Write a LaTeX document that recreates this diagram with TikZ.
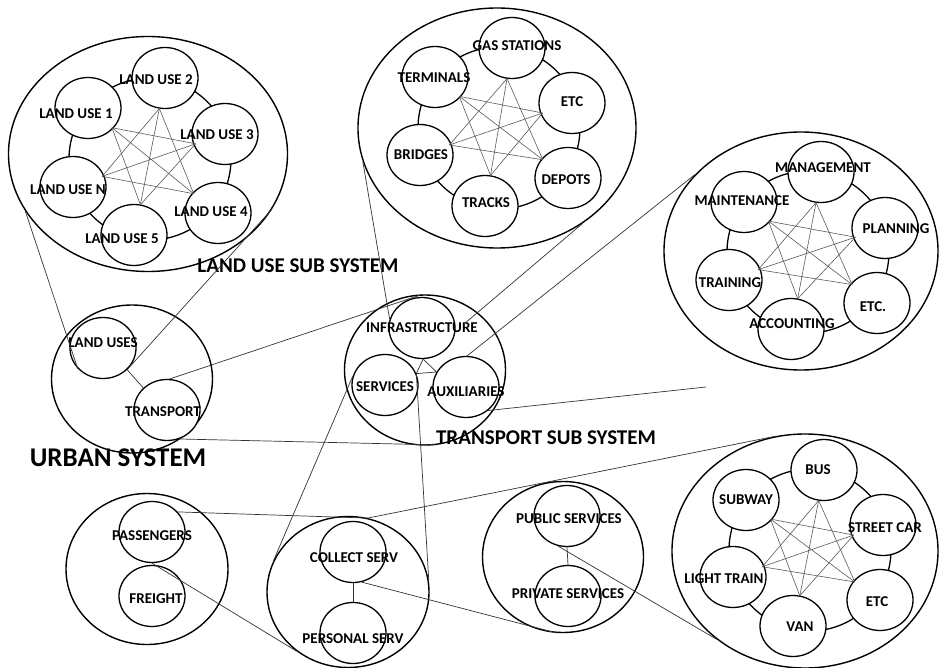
\documentclass[tikz,border=0pt]{standalone}
\usepackage{fontspec}
\setmainfont{Carlito}
\usetikzlibrary{shapes.geometric,calc}
\newcommand\crossset[7]{%
  \foreach \p/\q in {#2/#4,#2/#5,#2/#6,#3/#5,#3/#6,#3/#7,#4/#6,#4/#7,#5/#7}
    {\draw[cross] ($(\p)!31pt!(#1)$) -- ($(\q)!31pt!(#1)$);}}
\begin{document}
\begin{tikzpicture}[x=1pt,y=-1pt,
  grp/.style={draw, ellipse, line width=1.4pt, inner sep=0pt},
  sm/.style={draw, fill=white, ellipse, line width=1.3pt, inner sep=0pt, minimum width=66pt, minimum height=61pt},
  lbl/.style={font=\fontsize{15}{16}\selectfont\bfseries, inner sep=0pt},
  ttl/.style={font=\fontsize{21}{24}\selectfont\bfseries, inner sep=0pt},
  bigttl/.style={font=\fontsize{27}{30}\selectfont\bfseries, inner sep=0pt},
  ring/.style={line width=1.3pt},
  cross/.style={draw=black!65, line width=0.6pt},
  link/.style={draw=black!80, line width=0.7pt}]
\useasboundingbox (0,0) rectangle (939,668);

% ---------- group ellipses
\node[grp, minimum width=279pt, minimum height=235pt] (lusys) at (148,154) {};
\node[grp, minimum width=278pt, minimum height=240pt] (term) at (497,128) {};
\node[grp, minimum width=274pt, minimum height=238pt] (mgmt) at (801,251) {};
\node[grp, minimum width=266pt, minimum height=234pt] (veh) at (805,551) {};
\node[grp, minimum width=161pt, minimum height=148pt] (urban) at (132,379) {};
\node[grp, minimum width=161pt, minimum height=150pt] (tss) at (425,370) {};
\node[grp, minimum width=162pt, minimum height=151pt] (pass) at (147,569) {};
\node[grp, minimum width=162pt, minimum height=151pt] (coll) at (348,592) {};
\node[grp, minimum width=161pt, minimum height=151pt] (pub) at (563,557) {};

% ---------- rings
\coordinate (luc) at (150,159);
\coordinate (tc) at (499,128);
\coordinate (mc) at (808,252);
\coordinate (vc) at (810,550);
\draw[ring] (luc) circle[radius=81pt];
\draw[ring] (tc) circle[radius=81pt];
\draw[ring] (mc) circle[radius=81pt];
\draw[ring] (vc) circle[radius=81pt];

% ---------- land use
\node[sm] (lu2) at (165,78) {};
\node[sm] (lu1) at (88,108) {};
\node[sm] (lu3) at (225,134) {};
\node[sm] (lun) at (73,187) {};
\node[sm] (lu4) at (218,213) {};
\node[sm] (lu5) at (134,235) {};
% ---------- terminals
\node[sm] (gs) at (512,48) {};
\node[sm] (tm) at (435,77) {};
\node[sm] (etc) at (572,103) {};
\node[sm] (br) at (420,155) {};
\node[sm] (dp) at (568,178) {};
\node[sm] (tr) at (485,206) {};
% ---------- management
\node[sm] (mg) at (821,172) {};
\node[sm] (mt) at (744,202) {};
\node[sm] (pl) at (885,228) {};
\node[sm] (trn) at (729,280) {};
\node[sm] (et) at (877,303) {};
\node[sm] (ac) at (791,329) {};
% ---------- vehicles
\node[sm] (bus) at (824,470) {};
\node[sm] (sub) at (746,500) {};
\node[sm] (sc) at (883,525) {};
\node[sm] (lt) at (733,577) {};
\node[sm] (ve) at (880,600) {};
\node[sm] (van) at (793,626) {};
% ---------- small groups
\node[sm] (lus) at (103,348) {};
\node[sm] (trp) at (167,410) {};
\node[sm] (inf) at (422,328) {};
\node[sm] (srv) at (385,385) {};
\node[sm] (aux) at (466,387) {};
\node[sm] (psg) at (152,532) {};
\node[sm] (frt) at (152,596) {};
\node[sm] (cs) at (353,552) {};
\node[sm] (ps) at (353,633) {};
\node[sm] (pbs) at (567,516) {};
\node[sm] (pvs) at (568,596) {};

% ---------- cross lines
\crossset{luc}{lu2}{lu3}{lu4}{lu5}{lun}{lu1}
\crossset{tc}{gs}{etc}{dp}{tr}{br}{tm}
\crossset{mc}{mg}{pl}{et}{ac}{trn}{mt}
\crossset{vc}{bus}{sc}{ve}{van}{lt}{sub}

% ---------- labels
\node[lbl] (t-lu2) at (156,80) {LAND USE 2};
\node[lbl] (t-lu1) at (76,114) {LAND USE 1};
\node[lbl] (t-lu3) at (217,135) {LAND USE 3};
\node[lbl] (t-lun) at (68,190) {LAND USE N};
\node[lbl] (t-lu4) at (211,212) {LAND USE 4};
\node[lbl] (t-lu5) at (122,239) {LAND USE 5};
\node[lbl] (t-gs) at (517,46) {GAS STATIONS};
\node[lbl] (t-tm) at (434,78) {TERMINALS};
\node[lbl] (t-etc) at (572,102) {ETC};
\node[lbl] (t-br) at (421,155) {BRIDGES};
\node[lbl] (t-dp) at (566,180) {DEPOTS};
\node[lbl] (t-tr) at (486,203) {TRACKS};
\node[lbl] (t-mg) at (823,168) {MANAGEMENT};
\node[lbl] (t-mt) at (742,201) {MAINTENANCE};
\node[lbl] (t-pl) at (896,229) {PLANNING};
\node[lbl] (t-trn) at (730,283) {TRAINING};
\node[lbl] (t-et) at (873,307) {ETC.};
\node[lbl] (t-ac) at (792,324) {ACCOUNTING};
\node[lbl] (t-bus) at (818,470) {BUS};
\node[lbl] (t-sub) at (746,500) {SUBWAY};
\node[lbl] (t-sc) at (885,528) {STREET CAR};
\node[lbl] (t-lt) at (724,579) {LIGHT TRAIN};
\node[lbl] (t-ve) at (877,602) {ETC};
\node[lbl] (t-van) at (800,627) {VAN};
\node[lbl] (t-lus) at (103,343) {LAND USES};
\node[lbl] (t-trp) at (163,412) {TRANSPORT};
\node[lbl] (t-inf) at (422,328) {INFRASTRUCTURE};
\node[lbl] (t-srv) at (385,387) {SERVICES};
\node[lbl] (t-aux) at (466,392) {AUXILIARIES};
\node[lbl] (t-psg) at (152,536) {PASSENGERS};
\node[lbl] (t-frt) at (156,599) {FREIGHT};
\node[lbl] (t-cs) at (354,558) {COLLECT SERV};
\node[lbl] (t-ps) at (353,639) {PERSONAL SERV};
\node[lbl] (t-pbs) at (569,519) {PUBLIC SERVICES};
\node[lbl] (t-pvs) at (568,594) {PRIVATE SERVICES};

\node[ttl] (t-lusys) at (298,266) {LAND USE SUB SYSTEM};
\node[ttl] (t-tss) at (546,438) {TRANSPORT SUB SYSTEM};
\node[bigttl] (t-urban) at (118,458) {URBAN SYSTEM};

% ---------- connectors
\coordinate (infr) at (464,324);
\coordinate (auxend) at (706,387);
\draw[link] (lusys.205) -- (lus.219);
\draw[link] (lusys.336) -- (lus.318);
\draw[link] (lus.318) -- (trp.137);
\draw[link] (trp.85) -- (tss.92);
\draw[link] (trp.293) -- (tss.279);
\draw[link] (term.194) -- (inf.165);
\draw[link] (term.312) -- (infr);
\draw[link] (mgmt.144) -- (aux.88);
\draw[link] (aux.313) -- (auxend);
\draw[link] (inf.272) -- (srv.20) -- (aux.153) -- cycle;
\draw[link] (srv.165) -- (coll.158);
\draw[link] (srv.20) -- (coll.8);
\draw[link] (psg.38) -- (coll.75);
\draw[link] (coll.75) -- (veh.104);
\draw[link] (psg.south) -- (coll.229);
\draw[link] (cs.south) -- (ps.north);
\draw[link] (cs.286) -- (pub.265);
\draw[link] (pbs.253) -- (veh.225);
\draw[link] (pbs.south) -- (pvs.north);
\end{tikzpicture}
\end{document}
